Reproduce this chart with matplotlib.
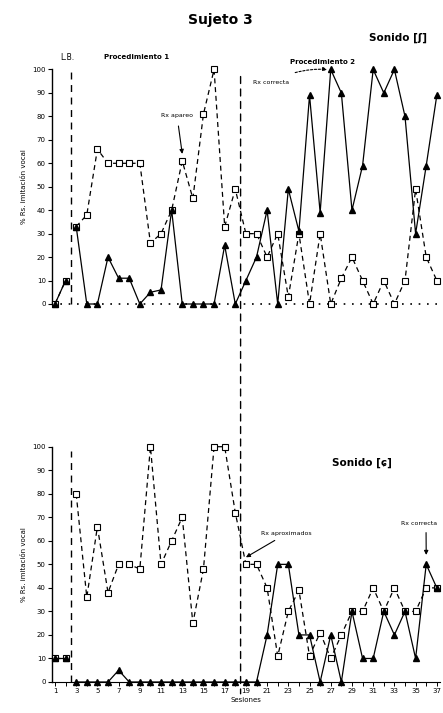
import matplotlib
matplotlib.use("Agg")
import matplotlib.pyplot as plt
from matplotlib.patches import ConnectionPatch

sessions = list(range(1, 38))
tick_labels = [str(s) for s in range(1, 38, 2)]

# Top panel: Sonido [ʃ]
top_correct = [0, 10, 33, 0, 0, 20, 11, 11, 0, 5, 6, 40, 0, 0, 0, 0, 25, 0, 10, 20,
               40, 0, 49, 31, 89, 39, 100, 90, 40, 59, 100, 90, 100, 80, 30, 59, 89]
top_approx = [0, 10, 33, 38, 66, 60, 60, 60, 60, 26, 30, 40, 61, 45, 81, 100, 33, 49, 30, 30,
              20, 30, 3, 30, 0, 30, 0, 11, 20, 10, 0, 10, 0, 10, 49, 20, 10]

# Bottom panel
bot_correct = [10, 10, 0, 0, 0, 0, 5, 0, 0, 0, 0, 0, 0, 0, 0, 0, 0, 0, 0, 0,
               20, 50, 50, 20, 20, 0, 20, 0, 30, 10, 10, 30, 20, 30, 10, 50, 40]
bot_approx = [10, 10, 80, 36, 66, 38, 50, 50, 48, 100, 50, 60, 70, 25, 48, 100, 100, 72, 50, 50,
              40, 11, 30, 39, 11, 21, 10, 20, 30, 30, 40, 30, 40, 30, 30, 40, 40]

phase_lines = [2.5, 18.5]

W, H = 443, 713
fig = plt.figure(figsize=(W / 100, H / 100), dpi=100)
fig.patch.set_facecolor("white")

def frac(x0, y0, x1, y1):
    return [x0 / W, 1 - y1 / H, (x1 - x0) / W, (y1 - y0) / H]

ax1 = fig.add_axes(frac(52, 69.5, 440, 304))
ax2 = fig.add_axes(frac(52, 446.7, 440, 682))

def draw(ax, correct, approx):
    segs = [(0, 2), (2, 37)]
    for a, b in segs:
        xs = sessions[a:b]
        ax.plot(xs, approx[a:b], color="black", lw=0.9, ls=(0, (4, 3)),
                marker="s", ms=4, mfc="white", mec="black", mew=0.8,
                clip_on=False, zorder=3)
        ax.plot(xs, correct[a:b], color="black", lw=0.9, ls="-",
                marker="^", ms=4, mfc="black", mec="black",
                clip_on=False, zorder=4)
    ax.set_xlim(0.72, 37.3)
    ax.set_ylim(0, 100)
    ax.set_yticks(range(0, 101, 10))
    ax.set_yticklabels([str(v) for v in range(0, 101, 10)], fontsize=5)
    for s in ["top", "right"]:
        ax.spines[s].set_visible(False)
    ax.spines["left"].set_linewidth(1.0)
    ax.tick_params(axis="y", length=3, width=0.8, pad=1.5)
    ax.set_ylabel("% Rs. imitación vocal", fontsize=5, labelpad=4)
    ax.patch.set_alpha(0)

draw(ax1, top_correct, top_approx)
draw(ax2, bot_correct, bot_approx)

# top: dotted baseline, no x labels
ax1.spines["bottom"].set_visible(False)
ax1.set_xticks([])
ax1.plot([0.72, 37.3], [0, 0], color="black", lw=1.2, ls=(0, (1, 4)), clip_on=False, zorder=1)

# bottom: solid baseline with ticks
ax2.spines["bottom"].set_linewidth(0.8)
ax2.set_xticks(sessions, minor=True)
ax2.set_xticks(list(range(1, 38, 2)))
ax2.set_xticklabels(tick_labels, fontsize=5)
ax2.tick_params(axis="x", which="both", length=3, width=0.7, pad=1.5)
ax2.set_xlabel("Sesiones", fontsize=5, labelpad=2)

# phase lines
ax1.plot([phase_lines[0]] * 2, [0, 101], color="black", lw=1.0, ls=(0, (5, 4)), clip_on=False)
ax2.plot([phase_lines[0]] * 2, [0, 98], color="black", lw=1.0, ls=(0, (5, 4)), clip_on=False)
con = ConnectionPatch(xyA=(phase_lines[1], 97), coordsA=ax1.transData,
                      xyB=(phase_lines[1], -5), coordsB=ax2.transData,
                      color="black", lw=1.0, ls=(0, (5, 4)))
fig.add_artist(con)

# texts
fig.text(220 / W, 1 - 20 / H, "Sujeto 3", fontsize=10, fontweight="bold", ha="center", va="center")
fig.text(398 / W, 1 - 38 / H, "Sonido [ʃ]", fontsize=7.5, fontweight="bold", ha="center", va="center")
fig.text(67 / W, 1 - 57 / H, "L.B.", fontsize=5.5, ha="center", va="center")
fig.text(137 / W, 1 - 57 / H, "Procedimiento 1", fontsize=5, fontweight="bold", ha="center", va="center")
fig.text(322 / W, 1 - 62 / H, "Procedimiento 2", fontsize=5, fontweight="bold", ha="center", va="center")
fig.text(362 / W, 1 - 463 / H, "Sonido [ɕ]", fontsize=7.5, fontweight="bold", ha="center", va="center")

ax1.annotate("Rx apareo", xy=(13, 64), xytext=(12.5, 80.5), fontsize=4.5, ha="center", va="center",
             arrowprops=dict(arrowstyle="-|>", color="black", lw=0.8, mutation_scale=6,
                             shrinkA=4, shrinkB=0))
ax1.annotate("Rx correcta", xy=(26.8, 100), xytext=(21.4, 94.5), fontsize=4.5, ha="center", va="center",
             arrowprops=dict(arrowstyle="-|>", color="black", lw=0.8, ls=(0, (2, 1.5)),
                             mutation_scale=6, connectionstyle="arc3,rad=-0.15",
                             shrinkA=10, shrinkB=1), annotation_clip=False)
ax2.annotate("Rx aproximados", xy=(19, 53), xytext=(22.8, 63), fontsize=4.5, ha="center", va="center",
             arrowprops=dict(arrowstyle="-|>", color="black", lw=0.8, mutation_scale=6,
                             shrinkA=2, shrinkB=0))
ax2.annotate("Rx correcta", xy=(36, 54), xytext=(35.3, 67.5), fontsize=4.5, ha="center", va="center",
             arrowprops=dict(arrowstyle="-|>", color="black", lw=0.8, mutation_scale=6,
                             shrinkA=3, shrinkB=0, relpos=(0.7, 0.5)), annotation_clip=False)

fig.savefig("out.png", dpi=100, facecolor="white")
